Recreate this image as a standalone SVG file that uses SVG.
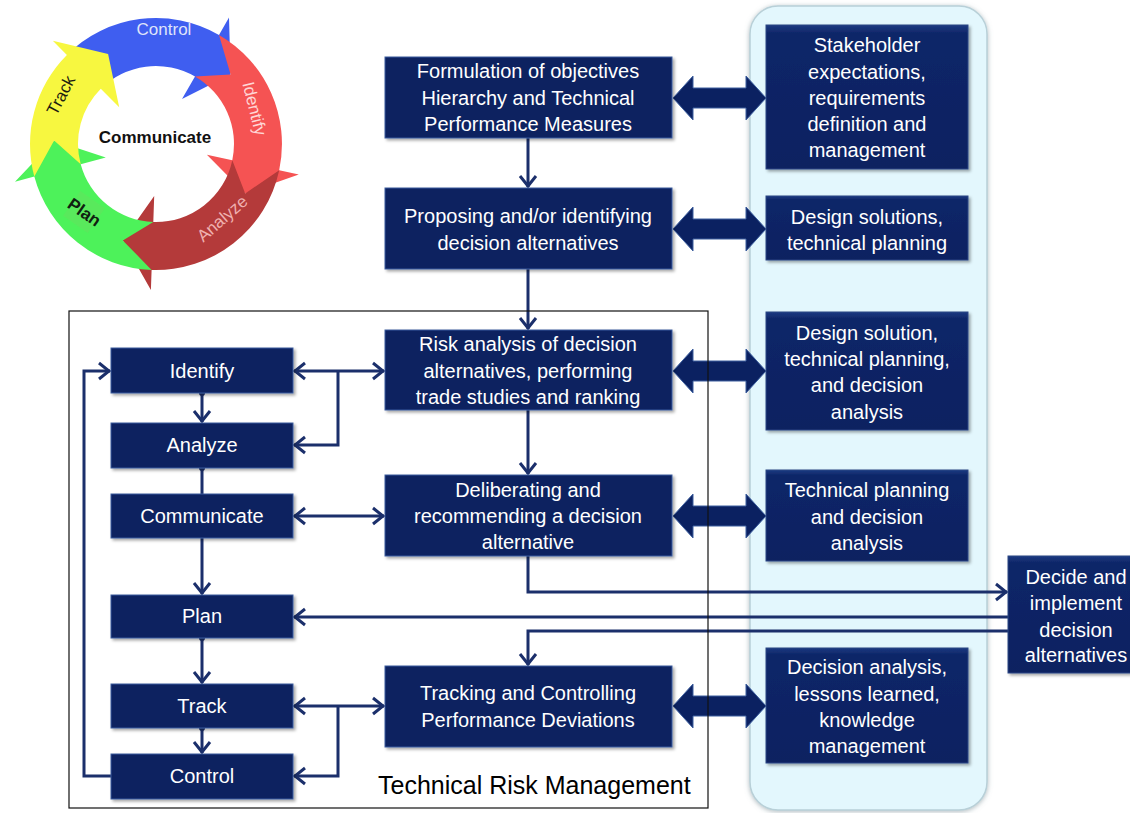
<svg xmlns="http://www.w3.org/2000/svg" xmlns:xlink="http://www.w3.org/1999/xlink" width="1130" height="813" viewBox="0 0 1130 813">
  <style>
    .box { fill: #0b2161; stroke: #3d5c9e; stroke-width: 1; filter: url(#shadow); }
    .rbox { fill: url(#navyGrad); stroke: #2c4684; stroke-width: 1; filter: url(#shadow); }
    .lbl { font-family: "Liberation Sans", Arial, sans-serif; font-size: 20px; fill: #ffffff; text-anchor: middle; }
    .ring { font-family: "Liberation Sans", Arial, sans-serif; font-size: 17px; text-anchor: middle; }
    .conn { fill: none; stroke: #1b2f6b; stroke-width: 3; }
    .dbl { fill: #0b2161; stroke: #3d5f9f; stroke-width: 1; }
  </style>
  <defs>
    <linearGradient id="navyGrad" x1="0" y1="0" x2="0" y2="1">
      <stop offset="0" stop-color="#1d3a82"/>
      <stop offset="0.06" stop-color="#0e2668"/>
      <stop offset="1" stop-color="#0b2161"/>
    </linearGradient>
    <filter id="shadow" x="-10%" y="-10%" width="125%" height="130%">
      <feDropShadow dx="2" dy="2" stdDeviation="1.5" flood-color="#000" flood-opacity="0.35"/>
    </filter>
    <filter id="panelShadow" x="-10%" y="-5%" width="120%" height="110%">
      <feDropShadow dx="0" dy="1" stdDeviation="2.5" flood-color="#6a7f88" flood-opacity="0.55"/>
    </filter>
    <marker id="chev" viewBox="-13 -10 15 20" refX="0" refY="0" markerWidth="15" markerHeight="20" markerUnits="userSpaceOnUse" orient="auto-start-reverse">
      <path d="M-11,-8 L-1,0 L-11,8" fill="none" stroke="#1b2f6b" stroke-width="3"/>
    </marker>
    <marker id="dot" viewBox="-4 -4 8 8" refX="0" refY="0" markerWidth="8" markerHeight="8" markerUnits="userSpaceOnUse">
      <circle r="3" fill="#1b2f6b"/>
    </marker>
    <path id="dblArrow" class="dbl" d="M673,0 L693,-22 L693,-10 L746,-10 L746,-22 L766,0 L746,22 L746,10 L693,10 L693,22 Z"/>
  </defs>

  <rect width="1130" height="813" fill="#ffffff"/>

  <!-- cycle graphic: five ring arrows, each tail notched to take the previous head -->
  <g id="cycle">
    <path id="seg-control" fill="#3f5ef0" d="M66.9,54.9 A126,126 0 0 1 219,34.9 L229,17.6 L230.6,74.4 L182,99 L195,76.5 A78,78 0 0 0 100.8,88.8 L108.1,53.9 Z"/>
    <path id="seg-identify" fill="#f55353" d="M219,34.9 A126,126 0 0 1 279.2,170.2 L298.8,174.4 L245.2,193.4 L206.9,154.8 L232.3,160.2 A78,78 0 0 0 195,76.5 L230.6,74.4 Z"/>
    <path id="seg-analyze" fill="#b43a3a" d="M279.2,170.2 A126,126 0 0 1 151.6,269.9 L150.9,289.9 L122.8,240.4 L154.2,196 L153.3,222 A78,78 0 0 0 232.3,160.2 L245.2,193.4 Z"/>
    <path id="seg-plan" fill="#4df25a" d="M151.6,269.9 A126,126 0 0 1 34.3,176.6 L15,181.8 L54.1,140.4 L105.8,157.5 L80.7,164.2 A78,78 0 0 0 153.3,222 L122.8,240.4 Z"/>
    <path id="seg-track" fill="#f7f740" d="M34.3,176.6 A126,126 0 0 1 66.9,54.9 L52.8,40.8 L108.1,53.9 L119.2,107.2 L100.8,88.8 A78,78 0 0 0 80.7,164.2 L54.1,140.4 Z"/>
    <rect x="-15" y="-15" width="30" height="30" transform="translate(84,212) rotate(35)" fill="#5ee65c" opacity="0.7"/>
    <text class="ring" x="164" y="35" fill="#dfe3fa">Control</text>
    <text class="ring" transform="translate(249,110) rotate(76)" fill="#ffd6d6">Identify</text>
    <text class="ring" transform="translate(226,223) rotate(-41)" fill="#efb0b0">Analyze</text>
    <text class="ring" font-size="16" transform="translate(81,217) rotate(35)" fill="#102010" font-weight="bold">Plan</text>
    <text class="ring" transform="translate(66,98) rotate(-62)" fill="#1d1d10">Track</text>
    <text class="ring" x="155" y="143" font-size="16.5" font-weight="bold" fill="#111111">Communicate</text>
  </g>

  <!-- light blue column -->
  <rect id="panel" x="750" y="6" width="237" height="804" rx="28" ry="28" fill="#e3f7fd" stroke="#b8d0d8" stroke-width="1.5" filter="url(#panelShadow)"/>

  <!-- connectors -->
  <g id="connectors">
    <path class="conn" d="M528,138 V187" marker-end="url(#chev)"/>
    <path class="conn" d="M528,269 V329" marker-end="url(#chev)"/>
    <path class="conn" d="M528,410 V474" marker-end="url(#chev)"/>
    <path class="conn" d="M528,556 V592 H1007" marker-end="url(#chev)"/>
    <path class="conn" d="M1008,617 H294" marker-end="url(#chev)"/>
    <path class="conn" d="M1008,631 H528 V665" marker-end="url(#chev)"/>
    <path class="conn" d="M294,371 H384" marker-start="url(#chev)" marker-end="url(#chev)"/>
    <path class="conn" d="M338,371 V445 H294" marker-end="url(#chev)"/>
    <path class="conn" d="M294,516 H384" marker-start="url(#chev)" marker-end="url(#chev)"/>
    <path class="conn" d="M294,706 H384" marker-start="url(#chev)" marker-end="url(#chev)"/>
    <path class="conn" d="M338,706 V776 H294" marker-end="url(#chev)"/>
    <path class="conn" d="M202,393 V422" marker-start="url(#dot)" marker-end="url(#chev)"/>
    <path class="conn" d="M202,468 V494" marker-start="url(#dot)"/>
    <path class="conn" d="M202,538 V594" marker-end="url(#chev)"/>
    <path class="conn" d="M202,638 V683" marker-start="url(#dot)" marker-end="url(#chev)"/>
    <path class="conn" d="M202,728 V753" marker-start="url(#dot)" marker-end="url(#chev)"/>
    <path class="conn" d="M111,776 H84 V371 H110" marker-end="url(#chev)"/>
    <use href="#dblArrow" y="98"/>
    <use href="#dblArrow" y="229"/>
    <use href="#dblArrow" y="371"/>
    <use href="#dblArrow" y="516"/>
    <use href="#dblArrow" y="706"/>
  </g>

  <!-- centre column -->
  <g id="formulation">
    <rect class="box" x="385" y="57" width="287" height="81"/>
    <text class="lbl" x="528" y="78">Formulation of objectives</text>
    <text class="lbl" x="528" y="105">Hierarchy and Technical</text>
    <text class="lbl" x="528" y="131">Performance Measures</text>
  </g>
  <g id="proposing">
    <rect class="box" x="385" y="188" width="287" height="81"/>
    <text class="lbl" x="528" y="223">Proposing and/or identifying</text>
    <text class="lbl" x="528" y="250">decision alternatives</text>
  </g>
  <g id="risk-analysis">
    <rect class="box" x="385" y="330" width="287" height="80"/>
    <text class="lbl" x="528" y="351">Risk analysis of decision</text>
    <text class="lbl" x="528" y="378">alternatives, performing</text>
    <text class="lbl" x="528" y="404">trade studies and ranking</text>
  </g>
  <g id="deliberating">
    <rect class="box" x="385" y="475" width="287" height="81"/>
    <text class="lbl" x="528" y="497">Deliberating and</text>
    <text class="lbl" x="528" y="523">recommending a decision</text>
    <text class="lbl" x="528" y="549">alternative</text>
  </g>
  <g id="tracking">
    <rect class="box" x="385" y="666" width="287" height="81"/>
    <text class="lbl" x="528" y="700">Tracking and Controlling</text>
    <text class="lbl" x="528" y="727">Performance Deviations</text>
  </g>

  <!-- right column -->
  <g id="stakeholder">
    <rect class="rbox" x="766" y="25" width="202" height="144"/>
    <text class="lbl" x="867" y="52">Stakeholder</text>
    <text class="lbl" x="867" y="79">expectations,</text>
    <text class="lbl" x="867" y="105">requirements</text>
    <text class="lbl" x="867" y="131">definition and</text>
    <text class="lbl" x="867" y="157">management</text>
  </g>
  <g id="design-solutions">
    <rect class="rbox" x="766" y="196" width="202" height="64"/>
    <text class="lbl" x="867" y="224">Design solutions,</text>
    <text class="lbl" x="867" y="250">technical planning</text>
  </g>
  <g id="design-solution">
    <rect class="rbox" x="766" y="312" width="202" height="118"/>
    <text class="lbl" x="867" y="340">Design solution,</text>
    <text class="lbl" x="867" y="366">technical planning,</text>
    <text class="lbl" x="867" y="392">and decision</text>
    <text class="lbl" x="867" y="419">analysis</text>
  </g>
  <g id="technical-planning">
    <rect class="rbox" x="766" y="470" width="202" height="91"/>
    <text class="lbl" x="867" y="497">Technical planning</text>
    <text class="lbl" x="867" y="524">and decision</text>
    <text class="lbl" x="867" y="550">analysis</text>
  </g>
  <g id="decision-analysis">
    <rect class="rbox" x="766" y="648" width="202" height="115"/>
    <text class="lbl" x="867" y="674">Decision analysis,</text>
    <text class="lbl" x="867" y="701">lessons learned,</text>
    <text class="lbl" x="867" y="727">knowledge</text>
    <text class="lbl" x="867" y="753">management</text>
  </g>
  <g id="decide">
    <rect class="rbox" x="1008" y="556" width="140" height="117"/>
    <text class="lbl" x="1076" y="584">Decide and</text>
    <text class="lbl" x="1076" y="610">implement</text>
    <text class="lbl" x="1076" y="637">decision</text>
    <text class="lbl" x="1076" y="662">alternatives</text>
  </g>

  <!-- risk management steps -->
  <g id="identify">
    <rect class="box" x="111" y="348" width="182" height="45"/>
    <text class="lbl" x="202" y="378">Identify</text>
  </g>
  <g id="analyze">
    <rect class="box" x="111" y="423" width="182" height="45"/>
    <text class="lbl" x="202" y="452">Analyze</text>
  </g>
  <g id="communicate">
    <rect class="box" x="111" y="494" width="182" height="44"/>
    <text class="lbl" x="202" y="523">Communicate</text>
  </g>
  <g id="plan">
    <rect class="box" x="111" y="595" width="182" height="43"/>
    <text class="lbl" x="202" y="623">Plan</text>
  </g>
  <g id="track">
    <rect class="box" x="111" y="684" width="182" height="44"/>
    <text class="lbl" x="202" y="713">Track</text>
  </g>
  <g id="control">
    <rect class="box" x="111" y="754" width="182" height="45"/>
    <text class="lbl" x="202" y="783">Control</text>
  </g>

  <!-- Technical Risk Management frame -->
  <g id="trm-frame">
    <rect x="69" y="311" width="639" height="497" fill="none" stroke="#111111" stroke-width="1.2"/>
    <text x="378" y="794" font-family="'Liberation Sans', Arial, sans-serif" font-size="25" fill="#000000">Technical Risk Management</text>
  </g>
</svg>
